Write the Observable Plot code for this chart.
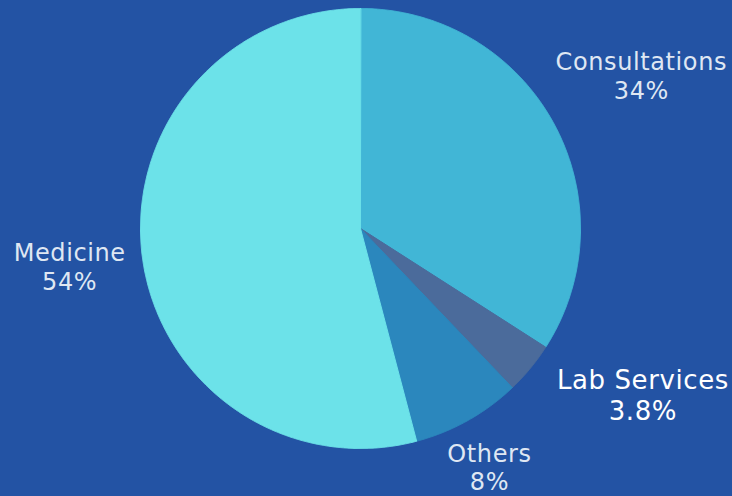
<!DOCTYPE html>
<html>
<head>
<meta charset="utf-8">
<script src="https://cdn.jsdelivr.net/npm/d3@7"></script>
<script src="https://cdn.jsdelivr.net/npm/@observablehq/plot@0.6"></script>
<style>
  html, body { margin: 0; padding: 0; background: #2353a4; }
  #chart { width: 732px; height: 496px; overflow: hidden; }
  #chart text { letter-spacing: 0.6px; }
</style>
</head>
<body>
<div id="chart"></div>
<script>
// ---- data ----
const categories = ["Consultations", "Lab Services", "Others", "Medicine"];
const shares = [34, 3.8, 8, 54];
const shareLabels = ["34%", "3.8%", "8%", "54%"];

// ---- styling (not data) ----
const sliceColors = ["#41b6d6", "#4b6b9b", "#2b87bd", "#6ce2e9"];
const labelColors = ["#dfe7f3", "#ffffff", "#dfe7f3", "#dfe7f3"];
const labelSizes = [24, 26, 24, 24];
const labelRadius = [1.455, 1.49, 1.232, 1.333];
const labelAngleShift = [0, -9, 0.8, 0];

const W = 732, H = 496, CX = 360, CY = 228, R = 220;

// geometry via d3.pie (starting at 12 o'clock, clockwise)
const arcs = d3.pie().sort(null).value(d => d)(shares.map(v => v / d3.sum(shares) * 100));
const points = [];
arcs.forEach((a, i) => {
  points.push({slice: categories[i], color: sliceColors[i], x: 0, y: 0});
  const n = Math.max(4, Math.ceil((a.endAngle - a.startAngle) / (Math.PI / 720)));
  for (let k = 0; k <= n; k++) {
    const t = a.startAngle + (a.endAngle - a.startAngle) * k / n;
    points.push({slice: categories[i], color: sliceColors[i], x: Math.sin(t), y: -Math.cos(t)});
  }
});
const labels = arcs.map((a, i) => {
  const t = (a.startAngle + a.endAngle) / 2 + labelAngleShift[i] * Math.PI / 180;
  return {
    text: categories[i] + "\n" + shareLabels[i],
    x: Math.sin(t) * labelRadius[i],
    y: -Math.cos(t) * labelRadius[i],
    color: labelColors[i],
    size: labelSizes[i]
  };
});

const chart = Plot.plot({
  width: W, height: H,
  margin: 0,
  x: {domain: [-CX / R, (W - CX) / R], range: [0, W], axis: null},
  y: {domain: [-CY / R, (H - CY) / R], range: [0, H], axis: null},
  color: {type: "identity"},
  style: {background: "#2353a4", fontFamily: "'DejaVu Sans', sans-serif"},
  marks: [
    Plot.line(points, {x: "x", y: "y", z: "slice", fill: "color", stroke: "color", strokeWidth: 1, curve: "linear-closed"}),
    Plot.text(labels, {x: "x", y: "y", text: "text", fill: "color", fontSize: "size", lineHeight: 1.2, textAnchor: "middle"})
  ]
});
document.getElementById("chart").appendChild(chart);
</script>
</body>
</html>
